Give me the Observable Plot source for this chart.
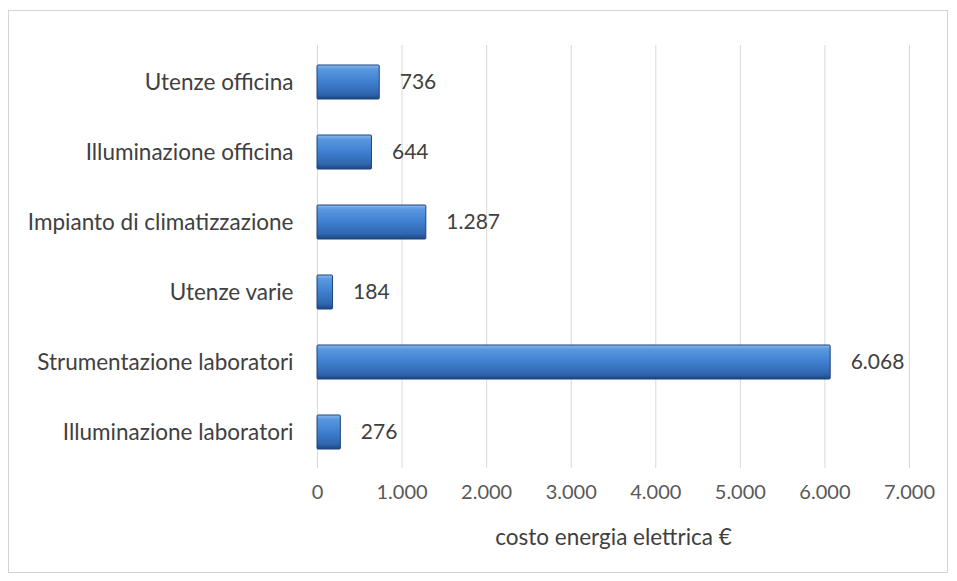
<!DOCTYPE html>
<html><head><meta charset="utf-8">
<script src="https://cdn.jsdelivr.net/npm/d3@7"></script>
<script src="https://cdn.jsdelivr.net/npm/@observablehq/plot@0.6"></script>
<style>
body{margin:0;background:#fff;}
#wrap{position:relative;width:957px;height:581px;}
#frame{position:absolute;left:8px;top:10px;width:940px;height:563px;border:1.5px solid #d4d4d4;box-sizing:border-box;pointer-events:none;}
</style>
</head><body><div id="wrap"><div id="frame"></div></div>
<script>
const categories = ["Utenze officina","Illuminazione officina","Impianto di climatizzazione","Utenze varie","Strumentazione laboratori","Illuminazione laboratori"];
const values = [736, 644, 1287, 184, 6068, 276];
const xTicks = [0,1000,2000,3000,4000,5000,6000,7000];
const xLabel = "costo energia elettrica €";

const it = d3.formatLocale({decimal:",", thousands:".", grouping:[3], currency:["€",""]});
const fmt = it.format(",d");
const data = categories.map((c,i)=>({cat:c, value:values[i]}));
const font = "Lato, 'Open Sans', sans-serif";

const chart = Plot.plot({
  width: 957, height: 581,
  marginLeft: 317, marginRight: 48, marginTop: 45, marginBottom: 113,
  style: {fontFamily: font, fontSize: "22px", color: "#404040", background: "transparent", overflow: "visible"},
  x: {domain: [0, 7000], label: null},
  y: {domain: categories, paddingInner: 0.52, paddingOuter: 0.26, label: null},
  marks: [
    Plot.gridX(xTicks, {stroke: "#d9d9d9", strokeOpacity: 1, strokeWidth: 1}),
    Plot.axisX({ticks: xTicks, tickFormat: fmt, tickSize: 0, tickPadding: 16, fontSize: 20, fill: "#595959", label: null}),
    Plot.text([xLabel], {frameAnchor: "bottom", dy: 76, fontSize: 22.5, fill: "#404040"}),
    Plot.axisY({tickSize: 0, tickPadding: 24, fontSize: 22.5, fill: "#404040", label: null}),
    Plot.barX(data, {x: "value", y: "cat", fill: "url(#barGrad)", stroke: "#1f4479", strokeWidth: 1, rx: 1}),
    Plot.text(data, {x: "value", y: "cat", text: d => fmt(d.value), textAnchor: "start", dx: 20, fontSize: 21, fill: "#404040"})
  ]
});
const defs = document.createElementNS("http://www.w3.org/2000/svg","defs");
defs.innerHTML = `<linearGradient id="barGrad" x1="0" y1="0" x2="0" y2="1">
  <stop offset="0" stop-color="#8cbcf0"/>
  <stop offset="0.12" stop-color="#5a98e0"/>
  <stop offset="0.5" stop-color="#3f7fcf"/>
  <stop offset="0.85" stop-color="#2f66b0"/>
  <stop offset="1" stop-color="#1d467f"/>
</linearGradient>`;
chart.insertBefore(defs, chart.firstChild);
chart.style.position = "absolute"; chart.style.left = "0"; chart.style.top = "0";
document.getElementById("wrap").appendChild(chart);
</script>
</body></html>
